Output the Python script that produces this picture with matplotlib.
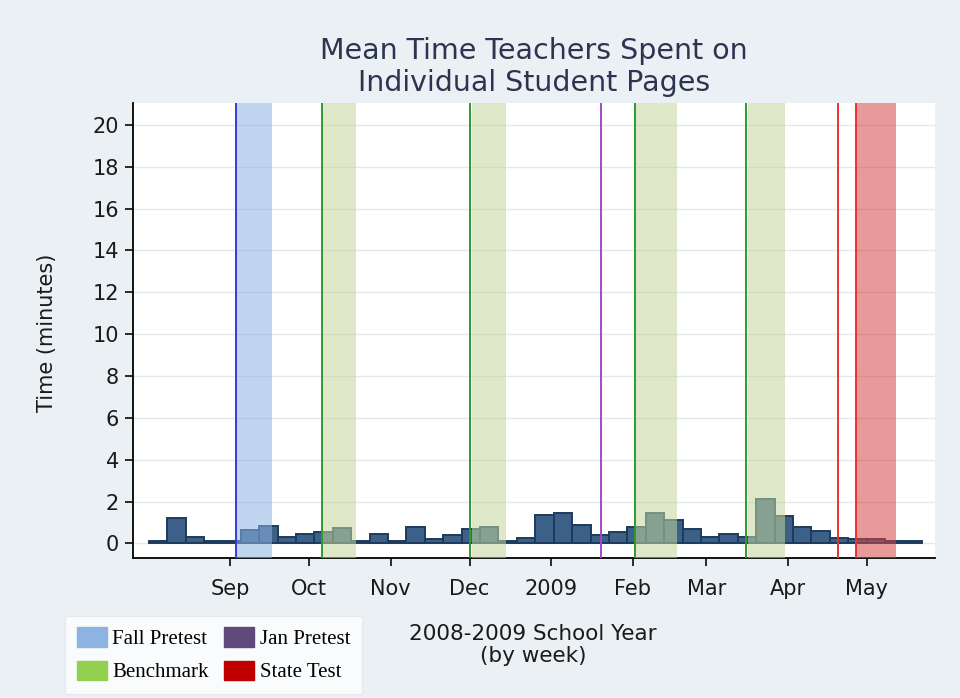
import datetime as dt
import matplotlib
matplotlib.use('Agg')
import matplotlib.pyplot as plt
import matplotlib.dates as mdates
from matplotlib.patches import Patch

# weekly mean time (minutes), weeks starting 2008-08-01
week_start = dt.date(2008, 8, 1)
minutes = [0.12, 1.2, 0.32, 0.1, 0.1, 0.62, 0.81, 0.3, 0.43, 0.52,
           0.72, 0.1, 0.43, 0.1, 0.8, 0.22, 0.42, 0.7, 0.8, 0.1,
           0.25, 1.37, 1.46, 0.9, 0.42, 0.52, 0.8, 1.47, 1.1, 0.7,
           0.3, 0.43, 0.32, 2.1, 1.3, 0.8, 0.6, 0.24, 0.22, 0.22,
           0.12, 0.1]

# test windows (start, end, kind)
windows = [('2008-09-03', '2008-09-17', 'fall'),
           ('2008-10-06', '2008-10-19', 'bench'),
           ('2008-12-02', '2008-12-15', 'bench'),
           ('2009-02-02', '2009-02-18', 'bench'),
           ('2009-03-17', '2009-03-31', 'bench'),
           ('2009-04-27', '2009-05-12', 'state')]
# marker lines (date, kind)
markers = [('2008-09-03', 'fall'), ('2008-10-06', 'bench'),
           ('2008-12-01', 'bench'), ('2009-01-20', 'jan'),
           ('2009-02-02', 'bench'), ('2009-03-16', 'bench'),
           ('2009-04-20', 'state'), ('2009-04-27', 'state')]

month_ticks = ['2008-09-01', '2008-10-01', '2008-11-01', '2008-12-01',
               '2009-01-01', '2009-02-01', '2009-03-01', '2009-04-01',
               '2009-05-01']
month_labels = ['Sep', 'Oct', 'Nov', 'Dec', '2009', 'Feb', 'Mar', 'Apr', 'May']

band_col = {'fall': '#8db3e2', 'bench': '#c3d69b', 'state': '#d64545'}
line_col = {'fall': '#3b3bd8', 'bench': '#2f9a2f', 'jan': '#a446c8',
            'state': '#ee3030'}

def d(s):
    return mdates.date2num(dt.datetime.strptime(s, '%Y-%m-%d'))

bg = '#eaf0f3'
fig = plt.figure(figsize=(9.6, 6.98), dpi=100, facecolor=bg)
ax = fig.add_axes([0.1385, 0.2006, 0.8355, 0.6518])
ax.set_facecolor('white')

x0 = mdates.date2num(week_start)
xs = [x0 + 7 * i for i in range(len(minutes))]
ax.bar(xs, minutes, width=7, align='edge', color='#3d6089',
       edgecolor='#1d3b5c', linewidth=1.4, zorder=2)

for s, e, k in windows:
    ax.axvspan(d(s), d(e), color=band_col[k], alpha=0.55, lw=0, zorder=3)
for s, k in markers:
    ax.axvline(d(s), color=line_col[k], lw=1.4, zorder=4)

ax.set_xlim(d('2008-07-26'), d('2009-05-27'))
ax.set_ylim(-0.7, 21.05)
ax.set_yticks(range(0, 21, 2))
ax.set_xticks([d(t) for t in month_ticks])
ax.set_xticklabels(month_labels)
ax.grid(axis='y', color='#e4e8ea', lw=1, zorder=0)
ax.set_axisbelow(True)
for sp in ['top', 'right']:
    ax.spines[sp].set_visible(False)
ax.spines['left'].set_linewidth(1.3)
ax.spines['bottom'].set_linewidth(1.3)
ax.tick_params(axis='both', labelsize=15, colors='#1a1a1a',
               length=6, width=1.3, direction='out')
ax.tick_params(axis='x', pad=9)
ax.tick_params(axis='y', pad=4)

ax.set_ylabel('Time (minutes)', fontsize=15, color='#1a1a1a')
ax.yaxis.set_label_coords(-0.095, 0.495)
ax.set_title('Mean Time Teachers Spent on\nIndividual Student Pages',
             fontsize=20.5, color='#2b3550', pad=9, linespacing=1.15)
fig.text(0.555, 0.106, '2008-2009 School Year\n(by week)', ha='center',
         va='top', fontsize=15.5, linespacing=1.15, color='#1a1a1a')

handles = [Patch(color='#8db3e2', label='Fall Pretest'),
           Patch(color='#92d050', label='Benchmark'),
           Patch(color='#604a7b', label='Jan Pretest'),
           Patch(color='#c00000', label='State Test')]
leg = fig.legend(handles=handles, ncol=2, loc='lower left',
                 bbox_to_anchor=(0.068, 0.006), frameon=True, fancybox=False,
                 prop={'family': 'Liberation Serif', 'size': 15},
                 handlelength=1.45, handleheight=1.05, handletextpad=0.25,
                 columnspacing=0.75, labelspacing=0.55, borderpad=0.55,
                 borderaxespad=0)
leg.get_frame().set_edgecolor('#e2e8eb')
leg.get_frame().set_facecolor('white')

fig.savefig('out.png', dpi=100, facecolor=bg)
